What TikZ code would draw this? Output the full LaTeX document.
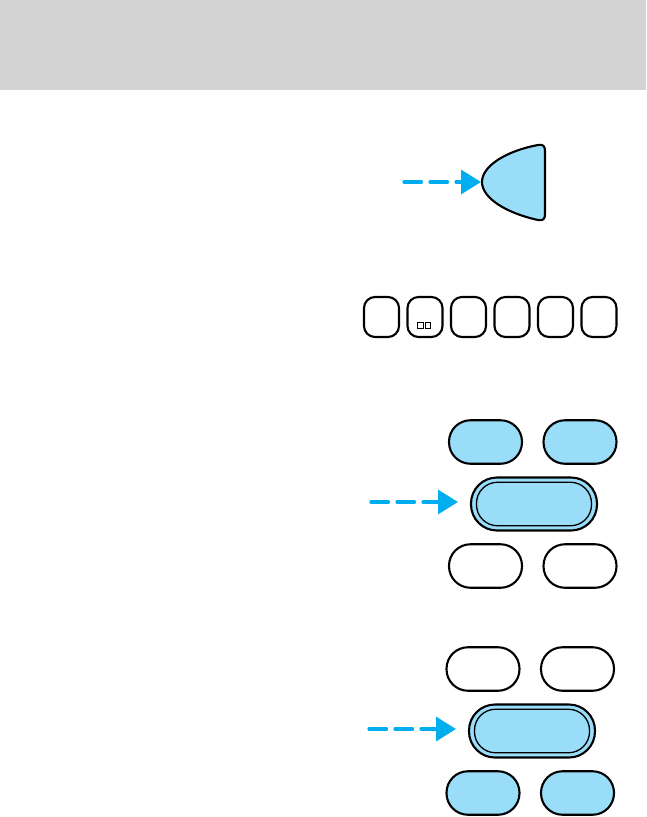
\documentclass[tikz,border=0pt]{standalone}
\usepackage{tikz}
\usetikzlibrary{arrows.meta,positioning,calc}

\definecolor{lampblue}{HTML}{99DDF9}
\definecolor{arrowblue}{HTML}{00AEEF}
\definecolor{headgray}{HTML}{D3D3D3}

\begin{document}
\begin{tikzpicture}[x=1pt, y=-1pt, line width=2.1pt]

    \tikzstyle{key} = [rectangle, rounded corners=11pt, minimum width=35pt, minimum height=40pt, inner sep=0pt, outer sep=0pt, draw=black]
    \tikzstyle{pill} = [rectangle, rounded corners=21.5pt, minimum width=73pt, minimum height=43.5pt, inner sep=0pt, outer sep=0pt, draw=black]
    \tikzstyle{bigpill} = [rectangle, rounded corners=26pt, minimum width=126pt, minimum height=53pt, inner sep=0pt, outer sep=0pt, draw=black, fill=lampblue]
    \tikzstyle{innerpill} = [rectangle, rounded corners=21pt, minimum width=115pt, minimum height=43.5pt, inner sep=0pt, outer sep=0pt, draw=black, line width=1.3pt]
    \tikzstyle{dot} = [rectangle, minimum width=5.5pt, minimum height=6pt, inner sep=0pt, outer sep=0pt, draw=black, line width=0.8pt]
    \tikzstyle{pointer} = [arrowblue, line width=3.2pt, line cap=round, dash pattern=on 17.5pt off 8.5pt, -{Triangle[length=20pt, width=24pt]}]

    \useasboundingbox (0,0) rectangle (646,817);
    \fill[headgray] (0,0) rectangle (646,90);

    % lamp
    \coordinate (lamp) at (482,182);
    \draw[fill=lampblue, line join=round] (lamp) .. controls (482,166) and (506,151) .. (538,145)
        .. controls (543,144) and (545,146) .. (545,151) -- (545,214)
        .. controls (545,219) and (543,221) .. (538,220)
        .. controls (506,213) and (482,198) .. (lamp) -- cycle;
    \coordinate (lamptail) at (404,182);
    \coordinate (lamphead) at (481,182);
    \draw[pointer] (lamptail) -- (lamphead);

    % preset keys
    \node (key1)  [key] at (381.5,317)       {};
    \node (key2)  [key, right=8.5pt of key1] {};
    \node (key3)  [key, right=8.5pt of key2] {};
    \node (key4)  [key, right=8.5pt of key3] {};
    \node (key5)  [key, right=8.5pt of key4] {};
    \node (key6)  [key, right=8.5pt of key5] {};
    \node (dotl)  [dot] at (420.5,325.5) {};
    \node (dotr)  [dot, right=2pt of dotl] {};

    % upper group
    \node (uptopl)  [pill, fill=lampblue] at (485.5,442) {};
    \node (uptopr)  [pill, fill=lampblue, right=21.5pt of uptopl] {};
    \node (upmid)   [bigpill] at (534,504) {};
    \node (upmidin) [innerpill] at (upmid) {};
    \node (upbotl)  [pill] at (485.5,566) {};
    \node (upbotr)  [pill, right=21.5pt of upbotl] {};
    \coordinate (uptail) at (371,502);
    \coordinate (uphead) at (458,502);
    \draw[pointer] (uptail) -- (uphead);

    % lower group
    \node (lowtopl)  [pill] at (483,669) {};
    \node (lowtopr)  [pill, right=21.5pt of lowtopl] {};
    \node (lowmid)   [bigpill] at (532,731) {};
    \node (lowmidin) [innerpill] at (lowmid) {};
    \node (lowbotl)  [pill, fill=lampblue] at (483,793) {};
    \node (lowbotr)  [pill, fill=lampblue, right=21.5pt of lowbotl] {};
    \coordinate (lowtail) at (369,729);
    \coordinate (lowhead) at (456,729);
    \draw[pointer] (lowtail) -- (lowhead);
\end{tikzpicture}
\end{document}
